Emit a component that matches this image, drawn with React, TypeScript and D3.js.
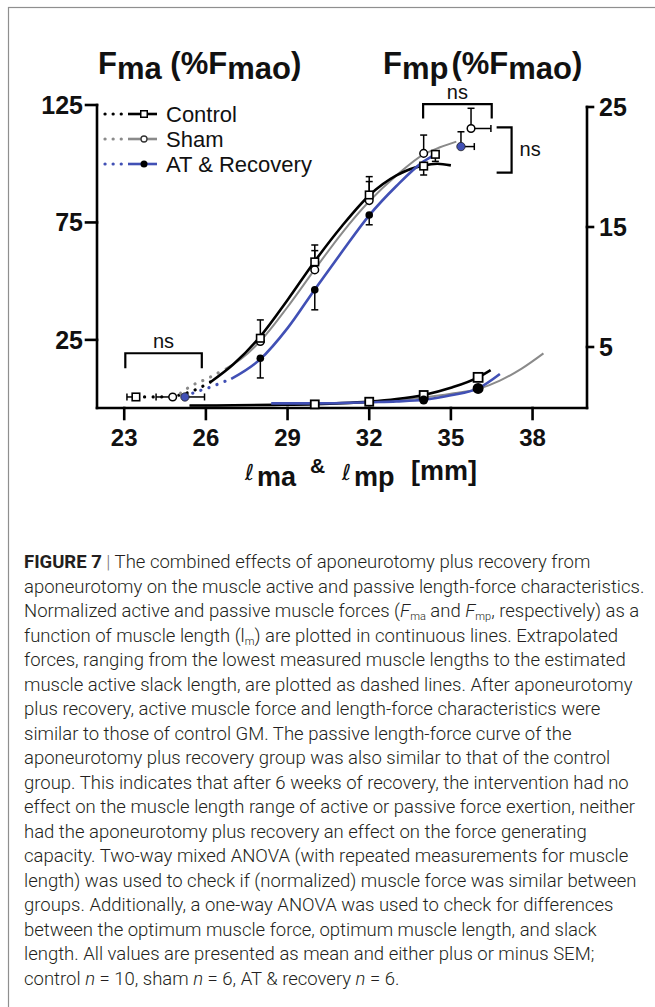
import React from 'react';
import * as d3 from 'd3';

type P = [number, number];

// ---------- axis ticks ----------
const xTicks = [23, 26, 29, 32, 35, 38];
const yLeftTicks = [25, 75, 125];
const yRightTicks = [5, 15, 25];

// ---------- active force (left axis, %Fmao) ----------
const controlActiveFit: P[] = [[26.2, 7.3], [27, 14.5], [28, 26.5], [29, 42], [30, 58.5], [31, 73.5], [32, 86.5], [33, 95], [34, 99.3], [34.5, 100], [35.0, 99.3]];
const shamActiveFit: P[] = [[26.7, 12.6], [27.3, 17], [28, 24.5], [29, 39], [30, 55], [31, 70.5], [32, 84], [33, 95], [34, 104], [34.6, 107], [35.2, 109.4]];
const atActiveFit: P[] = [[26.93, 8.4], [28, 16.8], [29, 30], [30, 46.5], [31, 62.5], [32, 78], [33, 90.5], [34, 101], [34.43, 104]];

const controlExtrap: P[] = [[23.43, 0.7], [24.5, 0.75], [25.2, 2.0], [25.7, 4.2], [26.2, 7.3]];
const shamExtrap: P[] = [[24.78, 0.7], [25.1, 2.5], [25.4, 5.0], [26.1, 8.8], [26.7, 12.6]];
const atExtrap: P[] = [[25.23, 0.7], [25.64, 2.9], [25.95, 4.0], [26.28, 5.4], [26.6, 6.9], [26.93, 8.4]];

// measured points: [x, y, error end]
const controlActivePts: [number, number, number][] = [[28, 25.7, 33.5], [30, 58.2, 65.4], [32, 86.7, 94.5], [34, 99, 95.2], [34.43, 104, 101]];
const shamActivePts: [number, number, number][] = [[28, 24.3, 24.3], [30, 54.8, 63], [32, 84.3, 92.4], [34, 104.4, 112.2]];
const atActivePts: [number, number, number][] = [[28, 17.2, 8.8], [30, 46.3, 37.8], [32, 78.2, 74]];

// slack length points: [x, y, horizontal error end]
const slackControl: [number, number, number] = [23.43, 0.7, 23.1];
const slackSham: [number, number, number] = [24.78, 0.7, 24.17];
const slackAT: [number, number, number] = [25.23, 0.7, 25.95];

// optimum points: [x, y, horizontal error end, vertical error end]
const optSham: [number, number, number, number] = [35.74, 115, 36.47, 123.6];
const optAT: [number, number, number, number] = [35.37, 107.3, 35.86, 113.6];

// significance brackets (data units, left axis): [x0, x1, yTop, yLeg]
const nsLow: [number, number, number, number] = [23.04, 25.85, 19.3, 12.9];
const nsTop: [number, number, number, number] = [33.98, 36.5, 125.4, 119.3];
// vertical bracket: [xArm, xSpine, yTop, yBottom]
const nsRight: [number, number, number, number] = [36.68, 37.23, 115.5, 96.2];

// ---------- passive force (right axis, %Fmao) ----------
const controlPassiveFit: P[] = [[25.4, 0.12], [27, 0.14], [28.5, 0.18], [30, 0.24], [31, 0.32], [32, 0.45], [33, 0.66], [34, 1.0], [35, 1.6], [36, 2.47], [36.46, 3.08]];
const shamPassiveFit: P[] = [[25.4, 0.1], [28, 0.15], [30, 0.25], [32, 0.42], [34, 0.8], [35, 1.1], [36, 1.5], [36.8, 2.2], [37.6, 3.2], [38.4, 4.47]];
const atPassiveFit: P[] = [[28.4, 0.3], [30, 0.3], [31, 0.33], [32, 0.4], [33, 0.47], [34, 0.6], [35, 0.98], [36, 1.55], [36.8, 2.75]];
const controlPassivePts: P[] = [[30, 0.22], [32, 0.44], [34, 1.0], [36, 2.47]];
const atPassivePts: P[] = [[34, 0.58], [36, 1.55]];

// ---------- legend ----------
const legendLabels = ['Control', 'Sham', 'AT & Recovery'];

// ---------- caption ----------
type Seg = { t: string; b?: boolean; i?: boolean; sub?: boolean; c?: string };
const captionLines: Seg[][] = [
  [{ t: 'FIGURE 7', b: true }, { t: ' | ', c: '#777' }, { t: 'The combined effects of aponeurotomy plus recovery from' }],
  [{ t: 'aponeurotomy on the muscle active and passive length-force characteristics.' }],
  [{ t: 'Normalized active and passive muscle forces (' }, { t: 'F', i: true }, { t: 'ma', sub: true }, { t: ' and ' }, { t: 'F', i: true }, { t: 'mp', sub: true }, { t: ', respectively) as a' }],
  [{ t: 'function of muscle length (l' }, { t: 'm', sub: true }, { t: ') are plotted in continuous lines. Extrapolated' }],
  [{ t: 'forces, ranging from the lowest measured muscle lengths to the estimated' }],
  [{ t: 'muscle active slack length, are plotted as dashed lines. After aponeurotomy' }],
  [{ t: 'plus recovery, active muscle force and length-force characteristics were' }],
  [{ t: 'similar to those of control GM. The passive length-force curve of the' }],
  [{ t: 'aponeurotomy plus recovery group was also similar to that of the control' }],
  [{ t: 'group. This indicates that after 6 weeks of recovery, the intervention had no' }],
  [{ t: 'effect on the muscle length range of active or passive force exertion, neither' }],
  [{ t: 'had the aponeurotomy plus recovery an effect on the force generating' }],
  [{ t: 'capacity. Two-way mixed ANOVA (with repeated measurements for muscle' }],
  [{ t: 'length) was used to check if (normalized) muscle force was similar between' }],
  [{ t: 'groups. Additionally, a one-way ANOVA was used to check for differences' }],
  [{ t: 'between the optimum muscle force, optimum muscle length, and slack' }],
  [{ t: 'length. All values are presented as mean and either plus or minus SEM;' }],
  [{ t: 'control ' }, { t: 'n', i: true }, { t: ' = 10, sham ' }, { t: 'n', i: true }, { t: ' = 6, AT & recovery ' }, { t: 'n', i: true }, { t: ' = 6.' }],
];

const BLACK = '#000';
const GRAY = '#8a8a8a';
const BLUE = '#4150b5';
const AX = 'Liberation Sans, Arial, Helvetica, sans-serif';

export default function App() {
  const x = d3.scaleLinear().domain([22, 40]).range([97, 587]);
  const yL = d3.scaleLinear().domain([-4, 125]).range([408, 105]);
  const yR = d3.scaleLinear().domain([0, 25]).range([407, 107]);
  const lineL = d3.line<P>().x(d => x(d[0])).y(d => yL(d[1])).curve(d3.curveMonotoneX);
  const lineR = d3.line<P>().x(d => x(d[0])).y(d => yR(d[1])).curve(d3.curveMonotoneX);

  const dotted = { fill: 'none', strokeWidth: 3.2, strokeLinecap: 'round' as const, strokeDasharray: '0.1 8.5' };

  const sq = (cx: number, cy: number, s: number, key: string, sw = 1.6) => (
    <rect key={key} x={cx - s / 2} y={cy - s / 2} width={s} height={s} fill="#fff" stroke={BLACK} strokeWidth={sw} />
  );
  const vErr = (cx: number, y0: number, y1: number, key: string, color = BLACK) => (
    <g key={key} stroke={color} strokeWidth={1.5}>
      <line x1={cx} x2={cx} y1={y0} y2={y1} />
      <line x1={cx - 3.5} x2={cx + 3.5} y1={y1} y2={y1} />
    </g>
  );
  const hErr = (cy: number, x0: number, x1: number, key: string) => (
    <g key={key} stroke={BLACK} strokeWidth={1.5}>
      <line x1={x0} x2={x1} y1={cy} y2={cy} />
      <line x1={x1} x2={x1} y1={cy - 3.5} y2={cy + 3.5} />
    </g>
  );

  const capX = 24;
  const capY0 = 568;
  const capDY = 24.5;

  return (
    <svg width={655} height={1007} style={{ position: 'absolute', left: 0, top: 0, background: '#fff' }}>
      <rect x={0} y={0} width={655} height={1007} fill="#fff" />
      <rect x={8.5} y={7.5} width={700} height={1100} fill="none" stroke="#8f8f8f" strokeWidth={1.2} />

      {/* titles */}
      <text x={98} y={74} fontFamily={AX} fontSize={31} fontWeight="bold" fill="#111">
        F<tspan dy={5}>ma</tspan><tspan dy={-5}> (%F</tspan><tspan dy={5}>mao</tspan><tspan dy={-5}>)</tspan>
      </text>
      <text x={383} y={74} fontFamily={AX} fontSize={31} fontWeight="bold" fill="#111">
        F<tspan dy={5}>mp</tspan><tspan dy={-5} dx={3}>(%F</tspan><tspan dy={5}>mao</tspan><tspan dy={-5}>)</tspan>
      </text>

      {/* axes */}
      <g stroke={BLACK} strokeWidth={2.6} fill="none" strokeLinecap="square">
        <line x1={x(22)} x2={x(22)} y1={yL(125)} y2={yL(-4)} />
        <line x1={x(40)} x2={x(40)} y1={yR(25)} y2={yR(0) + 1} />
        <line x1={x(22)} x2={x(40)} y1={yL(-4)} y2={yL(-4)} />
        {yLeftTicks.map(t => <line key={'lt' + t} x1={x(22) - 11} x2={x(22)} y1={yL(t)} y2={yL(t)} />)}
        {yRightTicks.map(t => <line key={'rt' + t} x1={x(40)} x2={x(40) + 6} y1={yR(t)} y2={yR(t)} />)}
        {xTicks.map(t => <line key={'xt' + t} x1={x(t)} x2={x(t)} y1={yL(-4)} y2={yL(-4) + 11} />)}
      </g>
      <g fontFamily={AX} fontSize={25} fontWeight="bold" fill="#111">
        {yLeftTicks.map(t => <text key={'ll' + t} x={x(22) - 14} y={yL(t) + 9} textAnchor="end">{t}</text>)}
        {yRightTicks.map(t => <text key={'rl' + t} x={x(40) + 12} y={yR(t) + 9}>{t}</text>)}
        {xTicks.map(t => <text key={'xl' + t} x={x(t)} y={446} fontSize={24} textAnchor="middle">{t}</text>)}
      </g>

      {/* x label */}
      <g fontFamily={AX} fontWeight="bold" fill="#111">
        <text x={245} y={480} fontFamily="DejaVu Sans" fontStyle="italic" fontWeight="normal" fontSize={22}>ℓ</text>
        <text x={257} y={486} fontSize={27}>ma</text>
        <text x={310} y={473} fontSize={21}>&amp;</text>
        <text x={342} y={480} fontFamily="DejaVu Sans" fontStyle="italic" fontWeight="normal" fontSize={22}>ℓ</text>
        <text x={354} y={486} fontSize={27}>mp</text>
        <text x={411} y={480} fontSize={27}>[mm]</text>
      </g>

      {/* passive curves */}
      <path d={lineR(shamPassiveFit) || ''} fill="none" stroke={GRAY} strokeWidth={2} />
      <path d={lineR(controlPassiveFit) || ''} fill="none" stroke={BLACK} strokeWidth={2.6} />
      <path d={lineR(atPassiveFit) || ''} fill="none" stroke={BLUE} strokeWidth={2.6} />
      {controlPassivePts.map((d, i) => sq(x(d[0]), yR(d[1]), i === 3 ? 9 : 8, 'cpp' + i, 1.8))}
      {atPassivePts.map((d, i) => <circle key={'app' + i} cx={x(d[0])} cy={yR(d[1])} r={i === 1 ? 5.5 : 4.5} fill={BLACK} />)}

      {/* extrapolated dotted lines */}
      <path d={lineL(controlExtrap) || ''} stroke={BLACK} {...dotted} />
      <path d={lineL(shamExtrap) || ''} stroke={GRAY} {...dotted} />
      <path d={lineL(atExtrap) || ''} stroke={BLUE} {...dotted} />

      {/* active fits */}
      <path d={lineL(shamActiveFit) || ''} fill="none" stroke={GRAY} strokeWidth={2} />
      <path d={lineL(controlActiveFit) || ''} fill="none" stroke={BLACK} strokeWidth={2.6} />
      <path d={lineL(atActiveFit) || ''} fill="none" stroke={BLUE} strokeWidth={2.6} />

      {/* error bars */}
      {controlActivePts.map((d, i) => vErr(x(d[0]), yL(d[1]), yL(d[2]), 'ce' + i))}
      {shamActivePts.map((d, i) => vErr(x(d[0]), yL(d[1]), yL(d[2]), 'se' + i))}
      {atActivePts.map((d, i) => vErr(x(d[0]), yL(d[1]), yL(d[2]), 'ae' + i))}

      {/* active markers */}
      {shamActivePts.map((d, i) => <circle key={'sp' + i} cx={x(d[0])} cy={yL(d[1])} r={3.8} fill="#fff" stroke={BLACK} strokeWidth={1.5} />)}
      {controlActivePts.map((d, i) => sq(x(d[0]), yL(d[1]), 7.5, 'cp' + i))}
      {atActivePts.map((d, i) => <circle key={'ap' + i} cx={x(d[0])} cy={yL(d[1])} r={3.8} fill={BLACK} />)}

      {/* slack points */}
      {hErr(yL(slackControl[1]), x(slackControl[0]), x(slackControl[2]), 'hs1')}
      {hErr(yL(slackSham[1]), x(slackSham[0]), x(slackSham[2]), 'hs2')}
      {hErr(yL(slackAT[1]), x(slackAT[0]), x(slackAT[2]), 'hs3')}
      {sq(x(slackControl[0]), yL(slackControl[1]), 7.5, 'slc')}
      <circle cx={x(slackSham[0])} cy={yL(slackSham[1])} r={3.8} fill="#fff" stroke={BLACK} strokeWidth={1.5} />
      <circle cx={x(slackAT[0])} cy={yL(slackAT[1])} r={4.2} fill={BLUE} stroke="#222" strokeWidth={0.8} />

      {/* optimum points */}
      {hErr(yL(optSham[1]), x(optSham[0]), x(optSham[2]), 'ho1')}
      {vErr(x(optSham[0]), yL(optSham[1]), yL(optSham[3]), 'vo1')}
      {hErr(yL(optAT[1]), x(optAT[0]), x(optAT[2]), 'ho2')}
      {vErr(x(optAT[0]), yL(optAT[1]), yL(optAT[3]), 'vo2')}
      <circle cx={x(optSham[0])} cy={yL(optSham[1])} r={3.8} fill="#fff" stroke={BLACK} strokeWidth={1.5} />
      <circle cx={x(optAT[0])} cy={yL(optAT[1])} r={4.2} fill={BLUE} stroke="#222" strokeWidth={0.8} />

      {/* ns brackets */}
      <g stroke={BLACK} strokeWidth={2.2} fill="none">
        <path d={`M${x(nsLow[0])},${yL(nsLow[3])} V${yL(nsLow[2])} H${x(nsLow[1])} V${yL(nsLow[3])}`} />
        <path d={`M${x(nsTop[0])},${yL(nsTop[3])} V${yL(nsTop[2])} H${x(nsTop[1])} V${yL(nsTop[3])}`} />
        <path d={`M${x(nsRight[0])},${yL(nsRight[2])} H${x(nsRight[1])} V${yL(nsRight[3])} H${x(nsRight[0])}`} />
      </g>
      <g fontFamily={AX} fontSize={20} fill="#111">
        <text x={(x(nsLow[0]) + x(nsLow[1])) / 2} y={yL(nsLow[2]) - 5} textAnchor="middle">ns</text>
        <text x={(x(nsTop[0]) + x(nsTop[1])) / 2} y={yL(nsTop[2]) - 5} textAnchor="middle">ns</text>
        <text x={x(nsRight[1]) + 8} y={(yL(nsRight[2]) + yL(nsRight[3])) / 2 + 6}>ns</text>
      </g>

      {/* legend */}
      {legendLabels.map((lab, i) => {
        const cy = 114 + i * 25;
        const col = i === 0 ? BLACK : i === 1 ? GRAY : BLUE;
        return (
          <g key={'lg' + i}>
            <line x1={105} x2={124} y1={cy} y2={cy} stroke={col} {...dotted} strokeDasharray="0.1 8" />
            <line x1={128} x2={157} y1={cy} y2={cy} stroke={col} strokeWidth={2.6} />
            {i === 0 && sq(144, cy, 6.5, 'lgs', 1.5)}
            {i === 1 && <circle cx={144} cy={cy} r={3} fill="#fff" stroke="#333" strokeWidth={1.3} />}
            {i === 2 && <circle cx={144} cy={cy} r={3.5} fill={BLACK} />}
            <text x={166} y={cy + 8} fontFamily={AX} fontSize={22} fill="#111">{lab}</text>
          </g>
        );
      })}

      {/* caption */}
      <g fontFamily="Roboto, 'Noto Sans', sans-serif" fontSize={18.5} fontWeight={300} fill="#231f20">
        {captionLines.map((segs, li) => (
          <text key={'cap' + li} x={capX} y={capY0 + li * capDY}>
            {segs.map((s, si) => (
              <tspan
                key={si}
                fontWeight={s.b ? 700 : undefined}
                fontStyle={s.i ? 'italic' : undefined}
                fontSize={s.sub ? 11 : undefined}
                dy={s.sub ? 3 : si > 0 && segs[si - 1].sub ? -3 : undefined}
                fill={s.c}
              >{s.t}</tspan>
            ))}
          </text>
        ))}
      </g>
    </svg>
  );
}
